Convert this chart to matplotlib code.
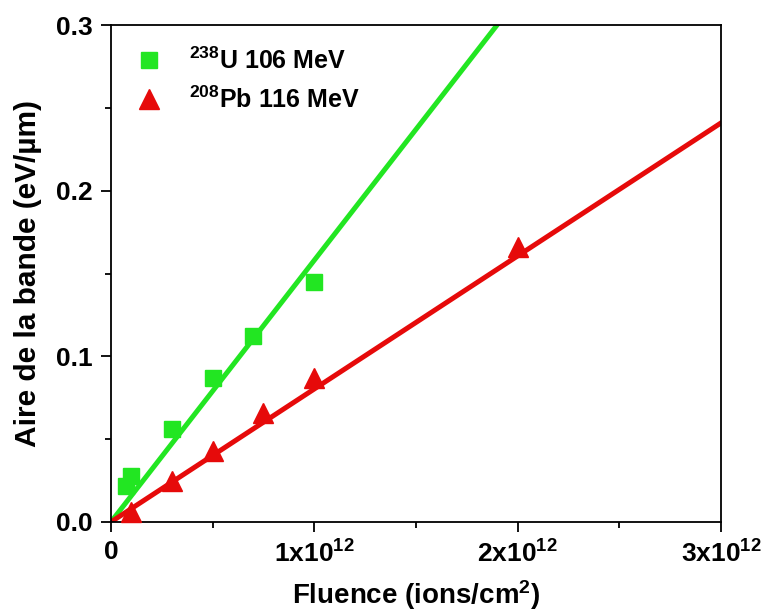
import matplotlib.pyplot as plt
import numpy as np

# Aire de la bande vs fluence
u_fluence = [0.075e12, 0.1e12, 0.3e12, 0.5e12, 0.7e12, 1.0e12]
u_aire = [0.022, 0.028, 0.056, 0.087, 0.112, 0.145]
pb_fluence = [0.1e12, 0.3e12, 0.5e12, 0.75e12, 1.0e12, 2.0e12]
pb_aire = [0.006, 0.025, 0.043, 0.066, 0.087, 0.166]

# pentes des ajustements lineaires (eV/um par ion/cm2)
u_slope = 0.158e-12
pb_slope = 0.0803e-12

green = '#22E622'
red = '#E60A0A'

plt.rcParams['font.family'] = ['Liberation Sans', 'DejaVu Sans']
plt.rcParams['font.weight'] = 'bold'
plt.rcParams['mathtext.fontset'] = 'custom'
plt.rcParams['mathtext.rm'] = 'Liberation Sans:bold'
plt.rcParams['mathtext.bf'] = 'Liberation Sans:bold'
plt.rcParams['mathtext.default'] = 'bf'

fig = plt.figure(figsize=(7.65, 6.16), dpi=100)
ax = fig.add_axes([0.145, 0.1526, 0.7975, 0.8068])

xfit = np.array([0, 3e12])
ax.plot(xfit, u_slope * xfit, color=green, lw=3.6, zorder=2)
ax.plot(xfit, pb_slope * xfit, color=red, lw=3.6, zorder=2)
ax.plot(u_fluence, u_aire, 's', color=green, ms=11, ls='none',
        label=r'$^{238}$U 106 MeV', zorder=3, clip_on=False)
ax.plot(pb_fluence, pb_aire, '^', color=red, ms=14, ls='none',
        label=r'$^{208}$Pb 116 MeV', zorder=3, clip_on=False)

ax.set_xlim(0, 3e12)
ax.set_ylim(0, 0.3)
ax.set_xticks([0, 1e12, 2e12, 3e12])
ax.set_xticklabels(['0', r'1x10$^{12}$', r'2x10$^{12}$', r'3x10$^{12}$'])
ax.set_xticks([0.5e12, 1.5e12, 2.5e12], minor=True)
ax.set_yticks([0.0, 0.1, 0.2, 0.3])
ax.set_yticklabels(['0.0', '0.1', '0.2', '0.3'])
ax.set_yticks([0.05, 0.15, 0.25], minor=True)
ax.tick_params(which='major', direction='out', length=7, width=1.3,
               labelsize=19, pad=6, top=False, right=False)
ax.tick_params(which='minor', direction='out', length=4, width=1.3,
               top=False, right=False)
for s in ax.spines.values():
    s.set_linewidth(1.3)

ax.set_xlabel(r'Fluence (ions/cm$^{2}$)', fontsize=20, fontweight='bold', labelpad=8)
ax.set_ylabel('Aire de la bande (eV/µm)', fontsize=21.5, fontweight='bold', labelpad=10)

leg = ax.legend(loc='upper left', bbox_to_anchor=(-0.015, 1.0), frameon=False,
                fontsize=18, numpoints=1, handletextpad=0.6, labelspacing=0.5)

fig.savefig('out.png', dpi=100)
